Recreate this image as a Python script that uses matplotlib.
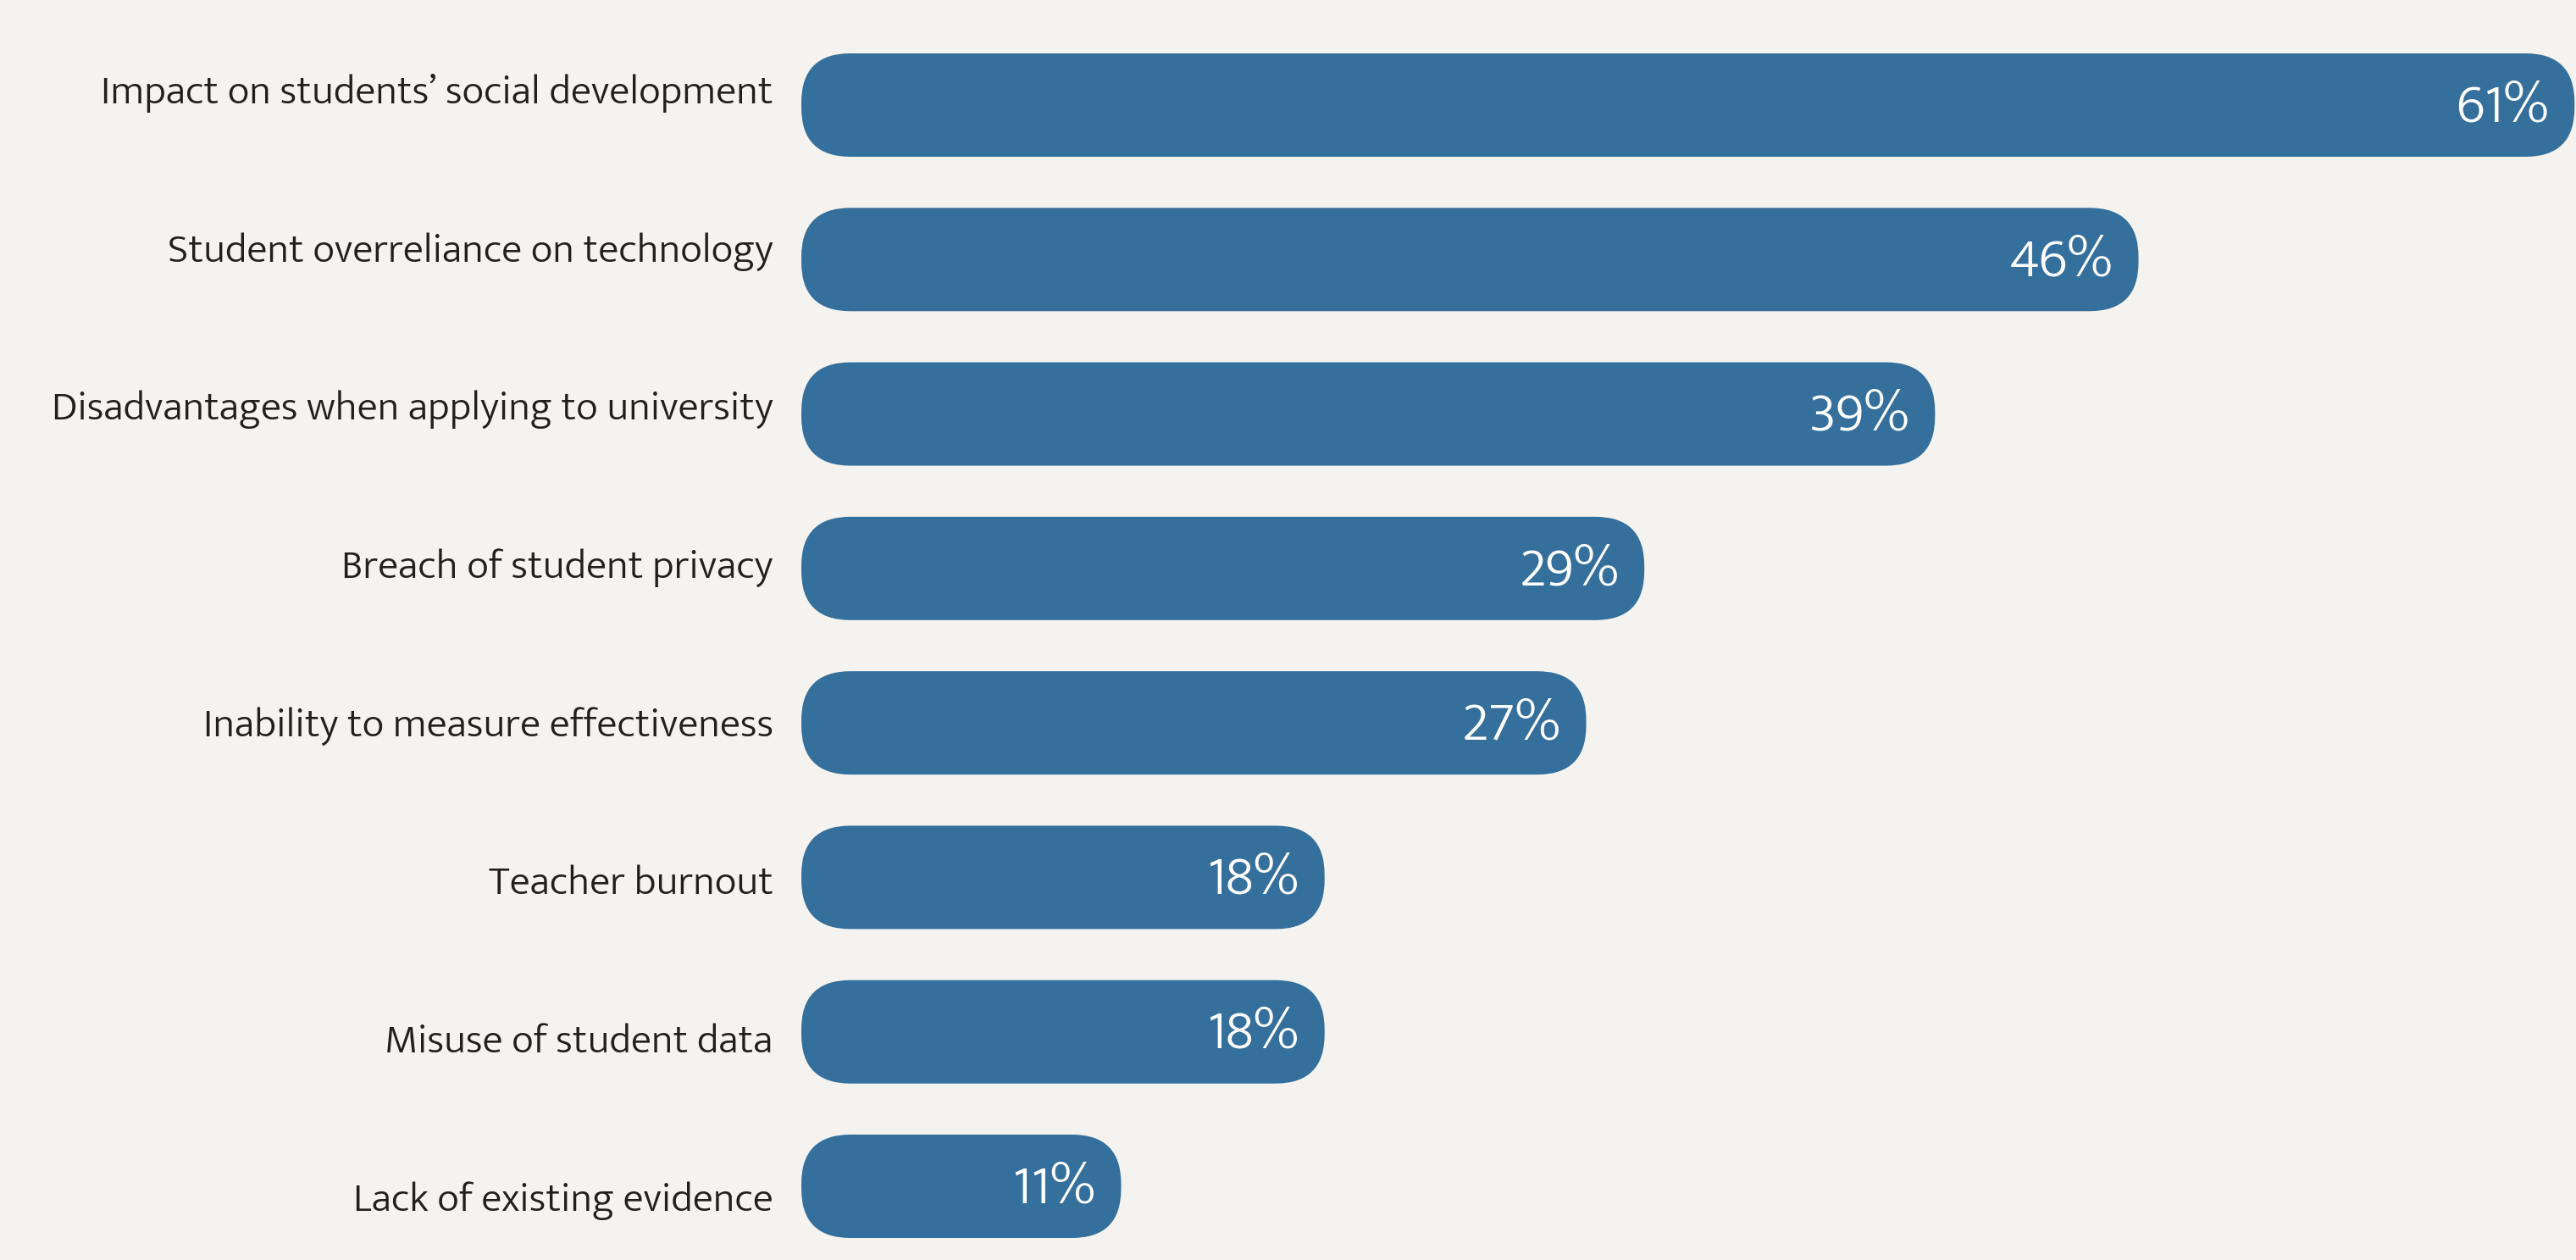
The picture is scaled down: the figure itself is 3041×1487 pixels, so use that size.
import matplotlib
matplotlib.use("Agg")
import matplotlib.pyplot as plt
from matplotlib.patches import FancyBboxPatch

# Survey results: share of respondents naming each concern
concerns = [
    "Impact on students\u2019 social development",
    "Student overreliance on technology",
    "Disadvantages when applying to university",
    "Breach of student privacy",
    "Inability to measure effectiveness",
    "Teacher burnout",
    "Misuse of student data",
    "Lack of existing evidence",
]
shares = [61, 46, 39, 29, 27, 18, 18, 11]

bg = "#F4F3EF"
bar_color = "#356F9C"
text_color = "#231F20"
fam = ["Mukta", "DejaVu Sans"]

W, H = 3041, 1487
fig = plt.figure(figsize=(W / 100, H / 100), dpi=100, facecolor=bg)
ax = fig.add_axes([946 / W, 0, 1 - 946 / W, 1])
ax.set_facecolor(bg)
ax.axis("off")

xmax = 61.05
px_x = (W - 946) / xmax   # pixels per percent
step = 182.3              # pixels between bar centres
ax.set_xlim(0, xmax)
ax.set_ylim(7 + 87 / step, -124 / step)

bar_h = 122 / step
radius_px = 58
aspect = px_x / step

for i, (name, v) in enumerate(zip(concerns, shares)):
    box = FancyBboxPatch((0, i - bar_h / 2), v, bar_h,
                         boxstyle=f"round,pad=0,rounding_size={radius_px / px_x}",
                         mutation_aspect=aspect, fc=bar_color, ec="none")
    ax.add_patch(box)
    ax.annotate(f"{v}%", (v, i), xytext=(-22, -2.5), textcoords="offset points",
                ha="right", va="center", color="white", fontsize=47,
                family=fam, fontweight=300)
    # category labels sit on a slightly wider spacing than the bars
    ly = (110 + i * 186.7 - 124) / step
    ax.annotate(name, (0, ly), xytext=(-24, 0), textcoords="offset points",
                ha="right", va="center", color=text_color, fontsize=35.3,
                family=fam, fontweight=300, annotation_clip=False)

fig.savefig("out.png", dpi=100, facecolor=bg)
